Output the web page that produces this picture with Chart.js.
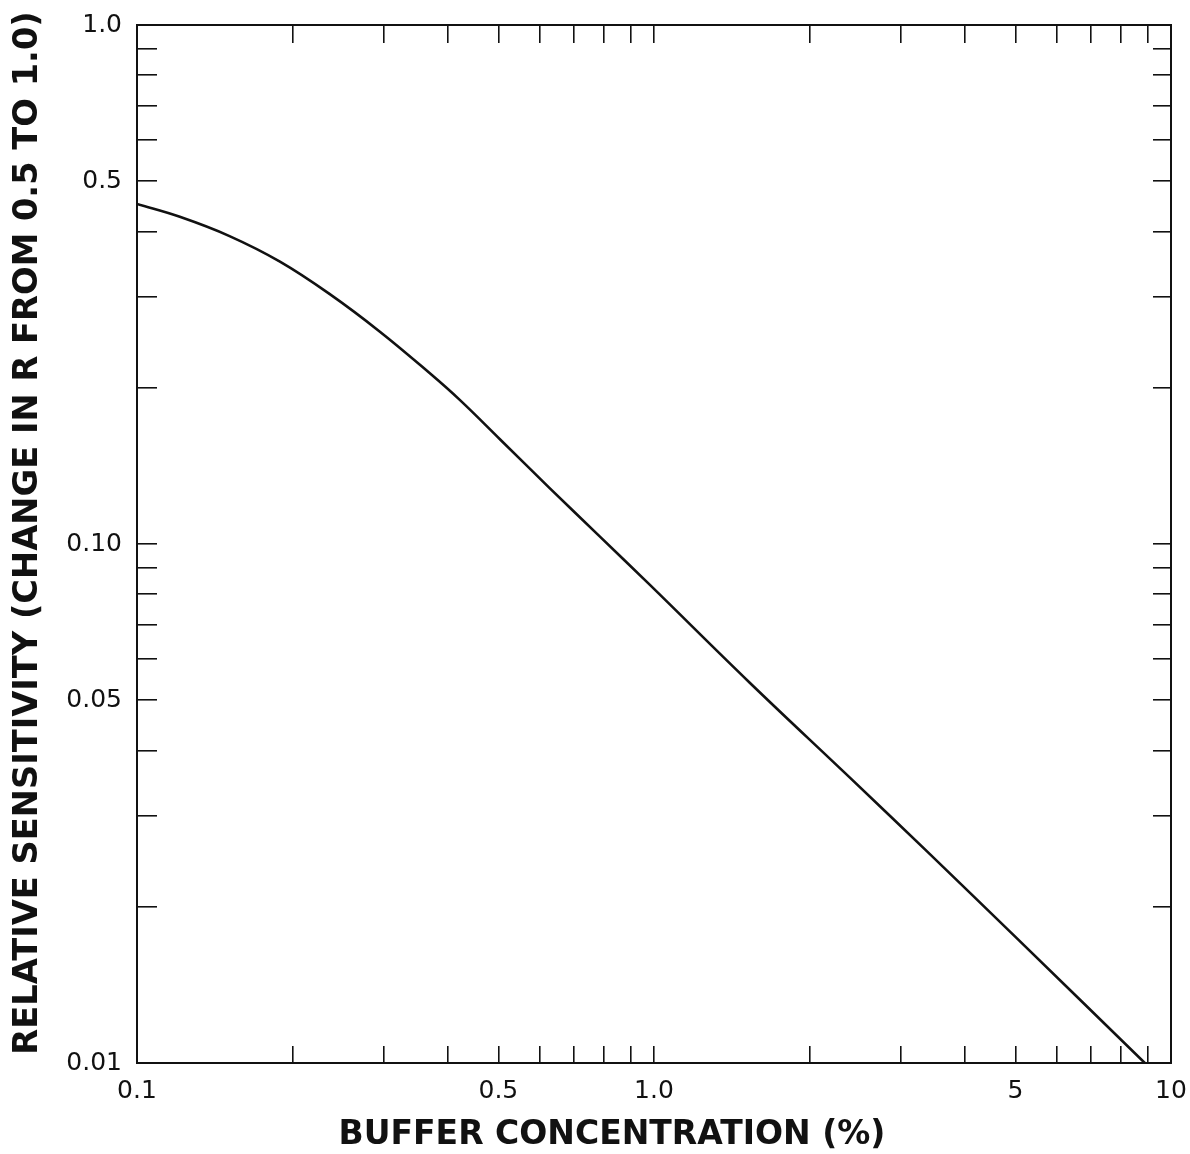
<!DOCTYPE html>
<html>
<head>
<meta charset="utf-8">
<script src="https://cdn.jsdelivr.net/npm/chart.js@4.4.1/dist/chart.umd.min.js"></script>
<style>
  html, body { margin: 0; padding: 0; background: #ffffff; }
  #wrap { width: 1190px; height: 1154px; }
</style>
</head>
<body>
<div id="wrap"><canvas id="c" width="1190" height="1154"></canvas></div>
<script>
// ---- data ----
const concentration = [0.1, 0.121, 0.151, 0.189, 0.236, 0.295, 0.369, 0.421, 0.504, 0.629, 0.786, 0.982, 1.53, 2.39, 3.37, 5.03, 8.9];
const sensitivity   = [0.452, 0.427, 0.392, 0.350, 0.303, 0.2565, 0.213, 0.1895, 0.159, 0.128, 0.1033, 0.0834, 0.0541, 0.0355, 0.0256, 0.0174, 0.0100];

const xTickValues = [0.1,0.2,0.3,0.4,0.5,0.6,0.7,0.8,0.9,1,2,3,4,5,6,7,8,9,10];
const xLabelValues = [0.1, 0.5, 1, 5, 10];
const xLabelTexts  = ['0.1', '0.5', '1.0', '5', '10'];

const yTickValues = [0.01,0.02,0.03,0.04,0.05,0.06,0.07,0.08,0.09,0.1,0.2,0.3,0.4,0.5,0.6,0.7,0.8,0.9,1];
const yLabelValues = [0.01, 0.05, 0.1, 0.5, 1];
const yLabelTexts  = ['0.01', '0.05', '0.10', '0.5', '1.0'];

const xTitle = 'BUFFER CONCENTRATION (%)';
const yTitle = 'RELATIVE SENSITIVITY (CHANGE IN R FROM 0.5 TO 1.0)';

// ---- helpers ----
function labelFor(v, vals, texts) {
  for (let i = 0; i < vals.length; i++) {
    if (Math.abs(v - vals[i]) <= vals[i] * 1e-6) return texts[i];
  }
  return '';
}
const points = concentration.map((x, i) => ({ x: x, y: sensitivity[i] }));

const tickFont = { family: 'DejaVu Sans', size: 25 };

const axisTitles = {
  id: 'axisTitles',
  afterDraw(chart) {
    const ctx = chart.ctx;
    const a = chart.chartArea;
    ctx.save();
    ctx.fillStyle = '#111';
    ctx.textAlign = 'center';
    ctx.textBaseline = 'middle';
    ctx.font = "bold 33px 'DejaVu Sans'";
    ctx.fillText(xTitle, a.left + 475, a.bottom + 72);
    ctx.font = "bold 33.7px 'DejaVu Sans'";
    ctx.translate(a.left - 109, (a.top + a.bottom) / 2 - 11);
    ctx.rotate(-Math.PI / 2);
    ctx.fillText(yTitle, 0, 0);
    ctx.restore();
  }
};

function logAxis(opts) {
  return Object.assign({
    type: 'logarithmic',
    border: { display: true, color: '#111', width: 2 },
  }, opts);
}
function noPad(s) { s.paddingLeft = 0; s.paddingRight = 0; s.paddingTop = 0; s.paddingBottom = 0; }

new Chart(document.getElementById('c'), {
  type: 'line',
  data: {
    datasets: [{
      data: points,
      borderColor: '#111',
      borderWidth: 2.6,
      pointRadius: 0,
      fill: false,
      tension: 0.4
    }]
  },
  options: {
    responsive: false,
    animation: false,
    devicePixelRatio: 1,
    layout: { padding: { left: 0, right: 19, top: 25, bottom: 0 } },
    plugins: { legend: { display: false }, tooltip: { enabled: false }, title: { display: false } },
    scales: {
      x: logAxis({
        position: 'bottom', min: 0.1, max: 10,
        afterBuildTicks: (s) => { s.ticks = xTickValues.map(v => ({ value: v })); },
        afterFit: (s) => { s.height = 91; noPad(s); },
        grid: { drawOnChartArea: false, drawTicks: true, tickLength: -17, color: '#111', lineWidth: 1.6 },
        ticks: { autoSkip: false, maxRotation: 0, minRotation: 0, padding: 30, color: '#111', font: tickFont,
                 callback: (v) => labelFor(v, xLabelValues, xLabelTexts) }
      }),
      x2: logAxis({
        position: 'top', min: 0.1, max: 10,
        afterBuildTicks: (s) => { s.ticks = xTickValues.map(v => ({ value: v })); },
        afterFit: (s) => { s.height = 0; noPad(s); },
        grid: { drawOnChartArea: false, drawTicks: true, tickLength: -18, color: '#111', lineWidth: 1.6 },
        ticks: { display: false, autoSkip: false }
      }),
      y: logAxis({
        position: 'left', min: 0.01, max: 1,
        afterBuildTicks: (s) => { s.ticks = yTickValues.map(v => ({ value: v })); },
        afterFit: (s) => { s.width = 137; noPad(s); },
        grid: { drawOnChartArea: false, drawTicks: true, tickLength: -20, color: '#111', lineWidth: 1.6 },
        ticks: { autoSkip: false, padding: 35, color: '#111', font: tickFont,
                 callback: (v) => labelFor(v, yLabelValues, yLabelTexts) }
      }),
      y2: logAxis({
        position: 'right', min: 0.01, max: 1,
        afterBuildTicks: (s) => { s.ticks = yTickValues.map(v => ({ value: v })); },
        afterFit: (s) => { s.width = 0; noPad(s); },
        grid: { drawOnChartArea: false, drawTicks: true, tickLength: -18, color: '#111', lineWidth: 1.6 },
        ticks: { display: false, autoSkip: false }
      })
    }
  },
  plugins: [axisTitles]
});
</script>
</body>
</html>
